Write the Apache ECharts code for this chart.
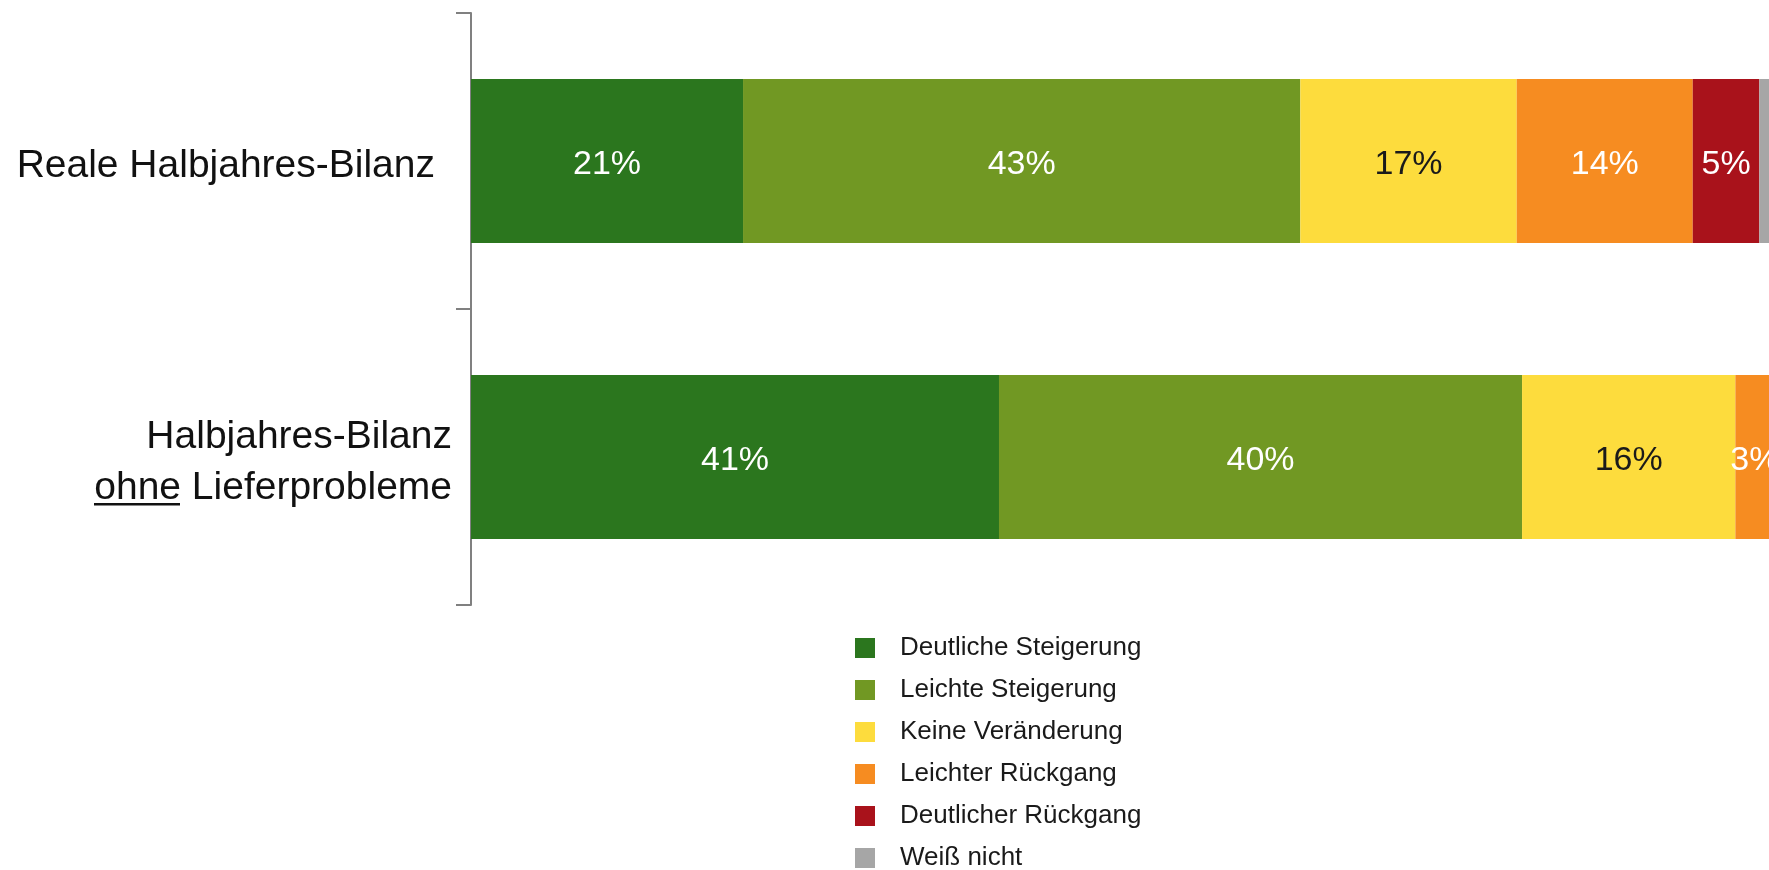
<!DOCTYPE html>
<html>
<head>
<meta charset="utf-8">
<script src="https://cdn.jsdelivr.net/npm/echarts@6/dist/echarts.min.js"></script>
<style>
    html, body { margin: 0; padding: 0; background: #fff; }
    #bilanz_chart { width: 1769px; height: 870px; }
</style>
</head>
<body>
<div id="bilanz_chart"></div>
<script>
    // Kategorien (von oben nach unten)
    const categories = ['Reale Halbjahres-Bilanz', 'Halbjahres-Bilanz\nohne Lieferprobleme'];

    // Antworten in Prozent, pro Kategorie
    const deutlicheSteigerung = [20.99, 40.74];
    const leichteSteigerung = [43.0, 40.36];
    const keineVeraenderung = [16.7, 16.46];
    const leichterRueckgang = [13.58, 3.0];
    const deutlicherRueckgang = [5.14, 0];
    const weissNicht = [0.8, 0];

    const seriesNames = ['Deutliche Steigerung', 'Leichte Steigerung', 'Keine Veränderung', 'Leichter Rückgang', 'Deutlicher Rückgang', 'Weiß nicht'];
    const seriesColors = ['#2b761e', '#719823', '#fddc3d', '#f68c21', '#a9121b', '#a6a6a6'];
    const labelColors = ['#ffffff', '#ffffff', '#1a1a1a', '#ffffff', '#ffffff', '#ffffff'];

    const fontFam = "'Liberation Sans', Arial, sans-serif";

    let chart = echarts.init(document.getElementById('bilanz_chart'));

    let seriesData = [deutlicheSteigerung, leichteSteigerung, keineVeraenderung, leichterRueckgang, deutlicherRueckgang, weissNicht];
    let series = [];
    for (let i = 0; i < seriesData.length; i++) {
        series.push({
            name: seriesNames[i],
            type: 'bar',
            stack: 'total',
            barWidth: 164,
            clip: false,
            itemStyle: { color: seriesColors[i] },
            label: {
                show: true,
                position: 'inside',
                offset: [0, 4],
                color: labelColors[i],
                fontSize: 34,
                fontFamily: fontFam,
                formatter: function (p) {
                    // zu schmale Segmente ohne Beschriftung
                    return p.value >= 2 ? Math.round(p.value) + '%' : '';
                }
            },
            data: seriesData[i]
        });
    }

    const option = {
        animation: false,
        grid: {
            left: 471,
            right: 2,
            top: 13,
            bottom: 265
        },
        xAxis: {
            type: 'value',
            min: 0,
            max: 100,
            show: false
        },
        yAxis: {
            type: 'category',
            inverse: true,
            data: categories,
            axisLine: { show: true, lineStyle: { color: '#808080', width: 2 } },
            axisTick: { show: true, length: 15, lineStyle: { color: '#808080', width: 2 } },
            axisLabel: {
                margin: 19,
                color: '#111111',
                fontSize: 39,
                lineHeight: 51,
                fontFamily: fontFam,
                padding: [11, 0, 0, 0],
                formatter: function (val, idx) {
                    if (idx === 0) return '{a|' + val + '}';
                    return val;
                },
                rich: {
                    a: { fontSize: 39, fontFamily: fontFam, color: '#111111', padding: [0, 17, 0, 0] }
                }
            }
        },
        legend: {
            orient: 'vertical',
            left: 855,
            top: 635,
            height: 400,
            padding: 0,
            icon: 'rect',
            itemWidth: 20,
            itemHeight: 20,
            itemGap: 16,
            data: seriesNames,
            textStyle: {
                fontSize: 26,
                color: '#1a1a1a',
                fontFamily: fontFam,
                padding: [0, 0, 0, 20]
            }
        },
        graphic: [
            // Unterstreichung von "ohne"
            { type: 'rect', left: 94, top: 503, shape: { width: 86, height: 2.5 }, style: { fill: '#111111' } }
        ],
        series: series
    };

    chart.setOption(option);

    window.addEventListener('resize', function () {
        chart.resize();
    });
</script>
</body>
</html>
